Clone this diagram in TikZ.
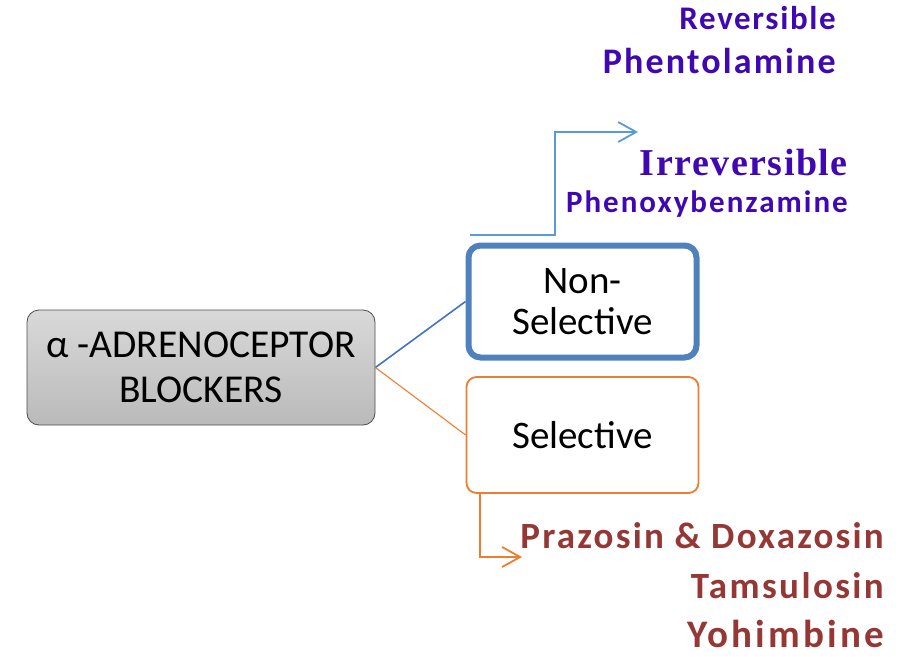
\documentclass[tikz,border=0pt]{standalone}
\usepackage{fontspec}
\setmainfont{Carlito}
\newcommand\bsp[2]{\fontspec{Carlito Bold}[LetterSpace=#2]\fontsize{#1}{#1}\selectfont}
\newfontfamily\timesb{Liberation Serif Bold}[LetterSpace=4]
\usetikzlibrary{arrows.meta}
\definecolor{purp}{RGB}{64,8,178}
\definecolor{dred}{RGB}{149,55,53}
\definecolor{boxblue}{RGB}{79,129,189}
\definecolor{lineblue}{RGB}{68,114,196}
\definecolor{arrblue}{RGB}{91,155,213}
\definecolor{orng}{RGB}{237,125,49}
\tikzset{
  mainbox/.style={draw=black!70, line width=0.8pt, rounded corners=12pt, top color=black!15, bottom color=black!27,
    minimum width=348pt, minimum height=115pt, align=center, font=\fontsize{39.5}{45}\selectfont, inner sep=0pt},
  nsbox/.style={draw=boxblue, line width=6pt, rounded corners=12pt, fill=white,
    minimum width=228pt, minimum height=112pt, align=center, font=\fontsize{39}{41}\selectfont, inner sep=0pt},
  selbox/.style={draw=orng, line width=1.8pt, rounded corners=10pt, fill=white,
    minimum width=232pt, minimum height=116pt, align=center, font=\fontsize{39}{45}\selectfont, inner sep=0pt},
  ptxt/.style={text=purp, anchor=base east, inner sep=0pt},
  rtxt/.style={text=dred, anchor=base east, inner sep=0pt},
  barb/.style={-{Straight Barb[length=18pt,width=20pt,line width=1.8pt]}}
}
\begin{document}
\begin{tikzpicture}[x=1pt,y=-1pt]
\useasboundingbox (0,0) rectangle (907,656);
\node[mainbox] (main) at (201,367.5) {α -ADRENOCEPTOR\\BLOCKERS};
\node[nsbox] (ns) at (582.5,301.5) {Non-\\Selective};
\node[selbox] (sel) at (582.5,435) {Selective};
\draw[lineblue, line width=1.6pt] (main.east) -- (ns.west);
\draw[orng, line width=1.1pt] (main.east) -- (sel.west);
% blue arrow
\coordinate (b0) at (470,235);
\coordinate (b1) at (638,132);
\draw[arrblue, line width=2pt, barb] (b0) -- ++(85,0) |- (b1);
% orange arrow
\coordinate (o0) at (480,493);
\coordinate (o1) at (522,557);
\draw[orng, line width=2pt, barb] (o0) |- (o1);
% texts
\node[ptxt, font=\bsp{33}{5}] (rev) at (836,29) {Reversible};
\node[ptxt, font=\bsp{36}{6}] (phen) at (836,73) {Phentolamine};
\node[ptxt, font=\timesb\fontsize{38}{38}\selectfont] (irr) at (848,175) {Irreversible};
\node[ptxt, font=\bsp{31}{6.5}] (pbz) at (848,212) {Phenoxybenzamine};
\node[rtxt, font=\bsp{37}{6}] (praz) at (884,548) {Prazosin \& Doxazosin};
\node[rtxt, font=\bsp{37}{6.5}] (tams) at (884,598) {Tamsulosin};
\node[rtxt, font=\bsp{39}{8}] (yoh) at (884,647) {Yohimbine};
\end{tikzpicture}
\end{document}
